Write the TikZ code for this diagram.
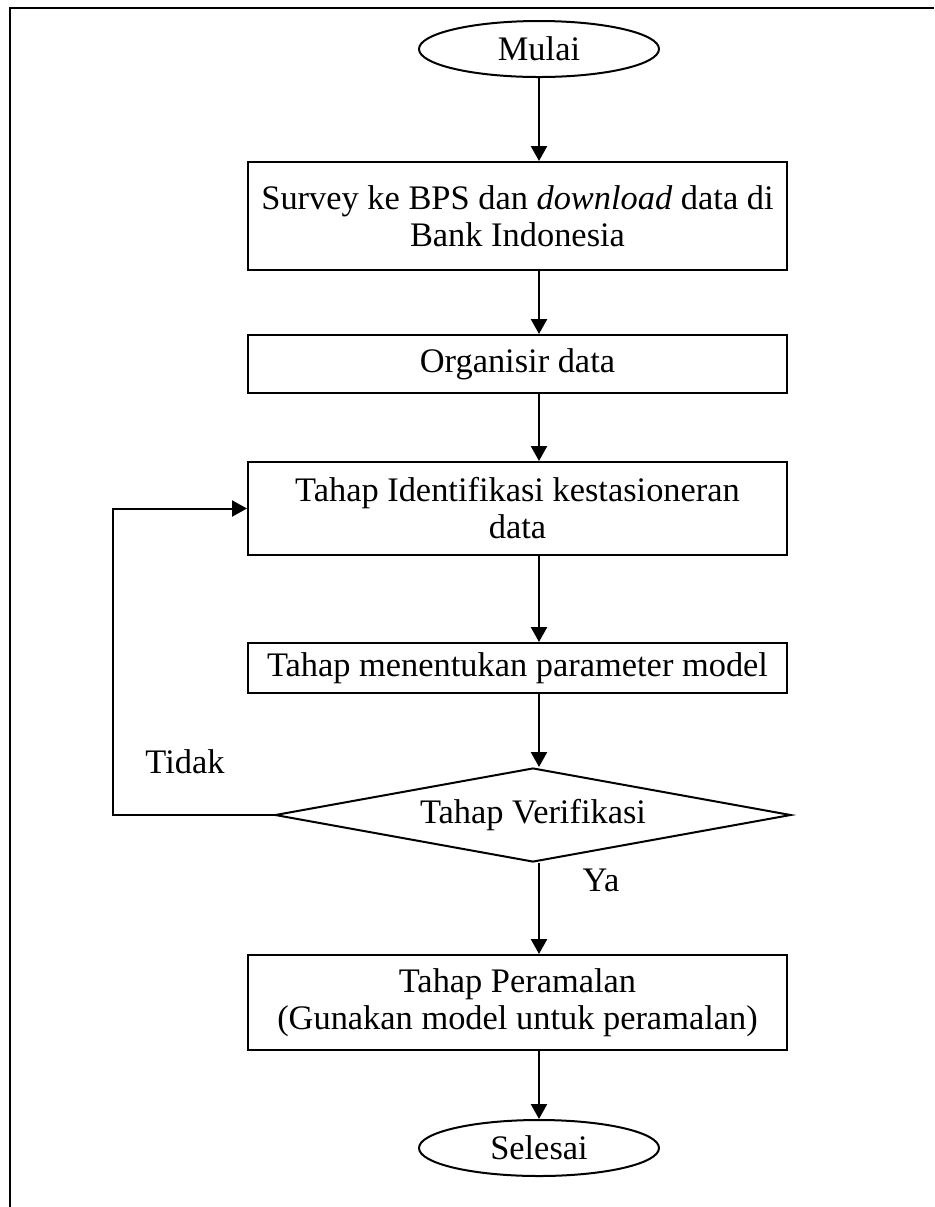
\documentclass[tikz,border=0pt]{standalone}
\usepackage{fontspec}
\setmainfont{Liberation Serif}
\usepackage{tikz}
\usetikzlibrary{arrows.meta,shapes.geometric}

\tikzset{
  procbox/.style={draw, line width=1pt, minimum width=269.5pt, align=center, inner sep=2pt},
  termbox/.style={draw, ellipse, line width=1pt, minimum width=120pt, minimum height=28pt, inner sep=0pt},
  decbox/.style={draw, diamond, line width=1pt, aspect=5.4, inner sep=0pt, minimum width=258pt, minimum height=47pt},
  arrline/.style={line width=1.2pt, -{Triangle[length=7.5pt,width=8pt]}},
}

\begin{document}
\begin{tikzpicture}[x=0.5pt,y=0.5pt,yscale=-1,xscale=1,font=\fontsize{17.2}{18.5}\selectfont]
\useasboundingbox (0,0) rectangle (934,1207);

%Shape: Frame
\draw [line width=0.75pt]  (10,1207) -- (10,8) -- (934,8) ;

%Shape: Ellipse [id:mulai]
\node [termbox] (mulai) at (539,49) {Mulai};
%Shape: Rectangle [id:survey]
\node [procbox, minimum height=54pt] (survey) at (517.5,216) {Survey ke BPS dan \textit{download} data di\\Bank Indonesia};
%Shape: Rectangle [id:organ]
\node [procbox, minimum height=29pt] (organ) at (517.5,364) {Organisir data};
%Shape: Rectangle [id:ident]
\node [procbox, minimum height=46.5pt] (ident) at (517.5,508.5) {Tahap Identifikasi kestasioneran\\data};
%Shape: Rectangle [id:param]
\node [procbox, minimum height=25pt] (param) at (517.5,668) {Tahap menentukan parameter model};
%Shape: Diamond [id:verif]
\node [decbox] (verif) at (533,815) {Tahap Verifikasi};
%Shape: Rectangle [id:ramal]
\node [procbox, minimum height=47.5pt] (ramal) at (517.5,1002.5) {Tahap Peramalan\\(Gunakan model untuk peramalan)};
%Shape: Ellipse [id:selesai]
\node [termbox] (selesai) at (539,1148) {Selesai};

\coordinate (loop) at (113,815);

%Straight Lines
\draw [arrline] (mulai) -- (mulai |- survey.north) ;
\draw [arrline] (survey.south -| mulai) -- (organ.north -| mulai) ;
\draw [arrline] (organ.south -| mulai) -- (ident.north -| mulai) ;
\draw [arrline] (ident.south -| mulai) -- (param.north -| mulai) ;
\draw [arrline] (param.south -| mulai) -- (mulai |- verif.north) ;
\draw [arrline] (mulai |- verif.south) -- (ramal.north -| mulai) ;
\draw [arrline] (ramal.south -| mulai) -- (selesai) ;
\draw [arrline, line width=1pt] (verif.west) -- (loop) |- (ident.west) ;

% Text Node
\node (tidak) at (185,762) {Tidak};
% Text Node
\node (ya) at (601,880) {Ya};

\end{tikzpicture}
\end{document}
